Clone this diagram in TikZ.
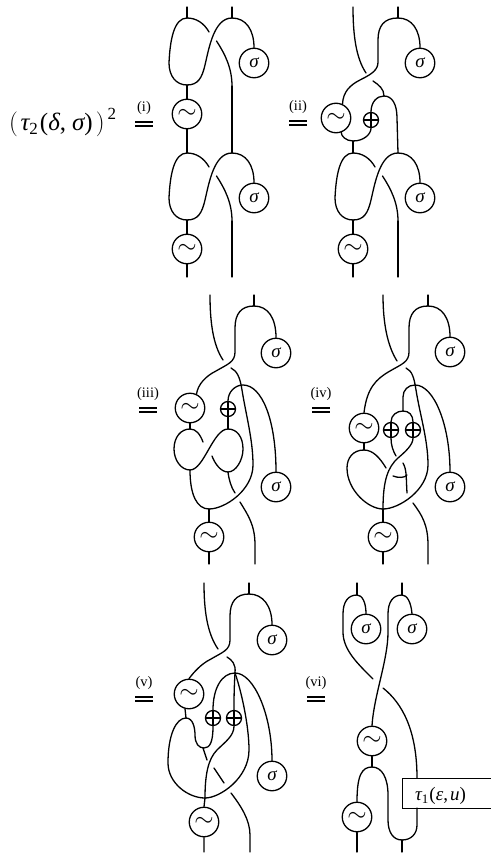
\documentclass[tikz,border=0pt]{standalone}
\usepackage{fontspec}
\newfontfamily\ser{Liberation Serif}
\tikzset{
  strand/.style={line width=1.3pt,line cap=round},
  sigmanode/.style={circle,draw,line width=1.3pt,minimum size=29.5pt,inner sep=0pt,font=\ser\itshape\fontsize{19}{19}\selectfont},
  tildenode/.style={circle,draw,line width=1.3pt,minimum size=29.5pt,inner sep=0pt,font=\fontsize{25}{25}\selectfont},
  oplusnode/.style={circle,draw,line width=1.3pt,minimum size=15pt,inner sep=0pt,
    path picture={\draw[line width=1.3pt] (path picture bounding box.north)--(path picture bounding box.south)
      (path picture bounding box.west)--(path picture bounding box.east);}},
  eqlabel/.style={inner sep=0pt,font=\ser\fontsize{14.5}{14.5}\selectfont},
  eqline/.style={line width=1.1pt},
}
\newcommand{\sg}{σ}
\newcommand{\tl}{$\sim$}
\newcommand{\eqmark}[4]{% name, x-centre, line y, label
  \node[eqlabel] (#1) at (#2,#3-14) {#4};
  \coordinate (#1a) at (#2-9,#3);
  \coordinate (#1b) at (#2+9,#3);
  \coordinate (#1c) at (#2-9,#3+4);
  \coordinate (#1d) at (#2+9,#3+4);
  \draw[eqline] (#1a)--(#1b) (#1c)--(#1d);
}
% the repeated loop with a crossing; origin at the left top junction
\newcommand{\loopblock}[1]{%
  \coordinate (#1tl) at (0,0);
  \coordinate (#1tr) at (45,0);
  \coordinate (#1b) at (0,67);
  \coordinate (#1u) at (29.5,23);
  \coordinate (#1ue) at (45,68);
  \coordinate (#1o) at (22,14);
  \node[sigmanode] (#1s) at (67,45) {\sg};
  \draw[strand] (#1tl) .. controls (-13,0) and (-17,22) .. (-18,45) .. controls (-18,58) and (-11,67) .. (#1b);
  \draw[strand] (#1tl) .. controls (9,0) and (17,5) .. (#1o);
  \draw[strand] (#1b) .. controls (11,67) and (15,60) .. (18,47) .. controls (22,30) and (27,0) .. (#1tr);
  \draw[strand] (#1tr) .. controls (59,0) and (67,12) .. (#1s.north);
  \draw[strand] (#1u) .. controls (38,36) and (45,50) .. (#1ue);
}
\begin{document}
\begin{tikzpicture}[x=1pt,y=-1pt]
\useasboundingbox (0,0) rectangle (490,853);
% formula
\node[anchor=base west,inner sep=0pt,font=\ser\fontsize{25}{25}\selectfont] (formula) at (9,131)
 {$\Bigg($\kern2.5pt{\itshape τ}\raisebox{-4pt}{\fontsize{17}{17}\selectfont 2}\kern2pt({\itshape δ},\kern6pt{\itshape σ})\kern3pt$\Bigg)$\kern3pt\raisebox{11pt}{\fontsize{17}{17}\selectfont 2}};
\eqmark{e1}{144}{122}{(i)}
\eqmark{e2}{298}{121}{(ii)}
\eqmark{e3}{148}{408}{(iii)}
\eqmark{e4}{321}{408}{(iv)}
\eqmark{e5}{144}{697}{(v)}
\eqmark{e6}{316}{697}{(vi)}

%%% panel 1
\begin{scope}[shift={(187,18)}]\loopblock{a}\end{scope}
\begin{scope}[shift={(187,153)}]\loopblock{b}\end{scope}
\coordinate (a1) at (187,7); \coordinate (a2) at (232,7);
\coordinate (a3) at (187,277); \coordinate (a4) at (232,277);
\node[tildenode] (at1) at (187,114) {\tl};
\node[tildenode] (at2) at (187,249) {\tl};
\draw[strand] (a1)--(atl) (a2)--(atr) (ab)--(at1.north) (at1.south)--(btl) (aue)--(btr)
  (bb)--(at2.north) (at2.south)--(a3) (bue)--(a4);

%%% panel 2
\begin{scope}[shift={(353,153)}]\loopblock{c}\end{scope}
\coordinate (d1) at (353,7); \coordinate (d1e) at (366,73);
\coordinate (d2) at (398,7); \coordinate (d2j) at (398,18);
\coordinate (d3) at (373,81); \coordinate (d3j) at (384,96);
\coordinate (d4) at (353,141);
\coordinate (d5) at (353,277); \coordinate (d6) at (398,277);
\node[sigmanode] (ds) at (420,63) {\sg};
\node[tildenode] (dt1) at (336,118) {\tl};
\node[oplusnode] (do) at (371,120) {};
\node[tildenode] (dt2) at (353,249) {\tl};
\draw[strand] (d1) .. controls (353,35) and (356,58) .. (d1e);
\draw[strand] (d2)--(d2j);
\draw[strand] (d2j) .. controls (412,18) and (420,30) .. (ds.north);
\draw[strand] (d2j) .. controls (384,18) and (378,26) .. (378,40) -- (378,62) .. controls (378,70) and (372,74) .. (360,80) .. controls (350,85) and (343,92) .. (dt1.65);
\draw[strand] (d3) .. controls (379,85) and (384,89) .. (d3j);
\draw[strand] (d3j) .. controls (377,96) and (371,102) .. (do.north);
\draw[strand] (d3j) .. controls (392,96) and (397,104) .. (397,118) -- (ctr);
\draw[strand] (do.south) .. controls (371,134) and (364,141) .. (d4);
\draw[strand] (dt1.-70) .. controls (341,136) and (346,141) .. (d4);
\draw[strand] (d4)--(ctl) (cb)--(dt2.north) (dt2.south)--(d5) (cue)--(d6);

%%% panel 3
\coordinate (f1) at (210,295); \coordinate (f1e) at (223,360);
\coordinate (f2) at (254,295); \coordinate (f2j) at (254,306);
\coordinate (f3) at (231,368); \coordinate (fb) at (209,509);
\coordinate (ft) at (190,429); \coordinate (fm) at (190,470);
\coordinate (fr) at (228,429); \coordinate (fq) at (228,472);
\coordinate (fe1) at (203,442); \coordinate (fe2) at (212,456);
\coordinate (fe3) at (235,493); \coordinate (fe4) at (240,502);
\coordinate (fe5) at (255,564); \coordinate (fe6) at (209,564);
\node[sigmanode] (fs1) at (276,353) {\sg};
\node[sigmanode] (fs2) at (276,487) {\sg};
\node[tildenode] (ft1) at (190,408) {\tl};
\node[tildenode] (ft2) at (209,537) {\tl};
\node[oplusnode] (fo) at (228,409) {};
\draw[strand] (f1) .. controls (210,322) and (213,345) .. (f1e);
\draw[strand] (f2)--(f2j);
\draw[strand] (f2j) .. controls (268,306) and (276,318) .. (fs1.north);
\draw[strand] (f2j) .. controls (241,306) and (235,314) .. (235,328) -- (235,352) .. controls (235,362) and (228,364) .. (216,371) .. controls (206,376) and (198,384) .. (ft1.65);
\draw[strand] (f3) .. controls (237,371) and (240,377) .. (242,390) .. controls (246,415) and (253,440) .. (253,465) .. controls (253,490) and (225,509) .. (fb);
\draw[strand] (ft1.south)--(ft);
\draw[strand] (ft) .. controls (181,429) and (174,437) .. (174,449) .. controls (174,460) and (181,470) .. (fm);
\draw[strand] (ft) .. controls (196,429) and (200,434) .. (fe1);
\draw[strand] (fm) .. controls (204,470) and (213,429) .. (fr);
\draw[strand] (fr) .. controls (237,429) and (243,437) .. (243,449) .. controls (243,460) and (236,472) .. (fq);
\draw[strand] (fq) .. controls (221,472) and (215,464) .. (fe2);
\draw[strand] (fq) .. controls (229,480) and (231,487) .. (fe3);
\draw[strand] (fe4) .. controls (248,515) and (255,525) .. (255,545) -- (fe5);
\draw[strand] (fo.south)--(fr);
\draw[strand] (fo.north) .. controls (228,392) and (235,385) .. (243,385) .. controls (262,385) and (276,420) .. (fs2.north);
\draw[strand] (fm) .. controls (190,495) and (197,509) .. (fb);
\draw[strand] (fb)--(ft2.north) (ft2.south)--(fe6);

%%% panel 4
\coordinate (g1) at (383,295); \coordinate (g1e) at (397,361);
\coordinate (g2) at (428,295); \coordinate (g2j) at (428,306);
\coordinate (g3) at (406,368); \coordinate (gb) at (383,509);
\coordinate (gt) at (364,450); \coordinate (gj) at (403,411);
\coordinate (ga) at (415,385); \coordinate (gc) at (407,475);
\coordinate (ge1) at (386,468); \coordinate (ge2) at (393,476);
\coordinate (ge3) at (407,493); \coordinate (ge4) at (413,503);
\coordinate (ge5) at (428,564); \coordinate (ge6) at (383,564);
\coordinate (ge7) at (396,456); \coordinate (ge8) at (403,463);
\node[sigmanode] (gs1) at (450,352) {\sg};
\node[sigmanode] (gs2) at (450,487) {\sg};
\node[tildenode] (gt1) at (364,428) {\tl};
\node[tildenode] (gt2) at (383,537) {\tl};
\node[oplusnode] (go1) at (391,430) {};
\node[oplusnode] (go2) at (413,430) {};
\draw[strand] (g1) .. controls (383,322) and (387,345) .. (g1e);
\draw[strand] (g2)--(g2j);
\draw[strand] (g2j) .. controls (442,306) and (450,318) .. (gs1.north);
\draw[strand] (g2j) .. controls (415,306) and (409,314) .. (409,328) -- (409,352) .. controls (409,362) and (402,364) .. (390,371) .. controls (376,379) and (367,388) .. (gt1.north);
\draw[strand] (g3) .. controls (412,371) and (414,377) .. (416,390) .. controls (420,415) and (428,440) .. (428,465) .. controls (428,490) and (399,509) .. (gb);
\draw[strand] (gt1.south)--(gt);
\draw[strand] (gt) .. controls (353,450) and (347,458) .. (347,468) .. controls (347,490) and (368,509) .. (gb);
\draw[strand] (gt) .. controls (373,450) and (380,458) .. (ge1);
\draw[strand] (gj) .. controls (397,411) and (391,415) .. (go1.north);
\draw[strand] (gj) .. controls (409,411) and (413,415) .. (go2.north);
\draw[strand] (gj) -- (403,397) .. controls (403,390) and (408,385) .. (ga) .. controls (434,385) and (450,425) .. (gs2.north);
\draw[strand] (go2.south) .. controls (413,445) and (405,452) .. (398,458) .. controls (388,467) and (383,480) .. (gb);
\draw[strand] (go1.south) .. controls (391,445) and (393,451) .. (ge7);
\draw[strand] (ge8) .. controls (407,470) and (406,478) .. (ge3);
\draw[strand] (ge2) .. controls (398,478) and (405,478) .. (gc);
\draw[strand] (ge4) .. controls (422,515) and (428,525) .. (428,545) -- (ge5);
\draw[strand] (gb)--(gt2.north) (gt2.south)--(ge6);

%%% panel 5
\coordinate (h1) at (204,583); \coordinate (h1e) at (218,649);
\coordinate (h2) at (249,583); \coordinate (h2j) at (249,594);
\coordinate (h3) at (227,657); \coordinate (hb) at (205,798);
\coordinate (ht) at (186,718); \coordinate (hj) at (235,673);
\coordinate (he1) at (203,748); \coordinate (he2) at (207,760);
\coordinate (he3) at (214,768); \coordinate (he4) at (224,783);
\coordinate (he5) at (231,793); \coordinate (he6) at (250,852);
\coordinate (he7) at (204,852);
\node[sigmanode] (hs1) at (272,640) {\sg};
\node[sigmanode] (hs2) at (272,776) {\sg};
\node[tildenode] (ht1) at (189,694) {\tl};
\node[tildenode] (ht2) at (204,822) {\tl};
\node[oplusnode] (ho1) at (213,718) {};
\node[oplusnode] (ho2) at (234,718) {};
\draw[strand] (h1) .. controls (204,610) and (207,633) .. (h1e);
\draw[strand] (h2)--(h2j);
\draw[strand] (h2j) .. controls (263,594) and (272,606) .. (hs1.north);
\draw[strand] (h2j) .. controls (236,594) and (230,602) .. (230,616) -- (230,640) .. controls (230,650) and (223,652) .. (211,659) .. controls (201,664) and (194,672) .. (ht1.north);
\draw[strand] (h3) .. controls (232,660) and (236,664) .. (hj);
\draw[strand] (hj) .. controls (241,690) and (249,725) .. (249,750) .. controls (249,778) and (220,798) .. (hb);
\draw[strand] (hj) .. controls (234,690) and (234,700) .. (ho2.north);
\draw[strand] (ho1.north) .. controls (213,688) and (222,673) .. (hj) .. controls (254,673) and (272,715) .. (hs2.north);
\draw[strand] (ht1.-105)--(ht);
\draw[strand] (ht) .. controls (176,718) and (168,735) .. (168,763) .. controls (168,783) and (188,798) .. (hb);
\draw[strand] (ht) .. controls (193,718) and (195,728) .. (195,735) .. controls (195,744) and (199,748) .. (204,748) .. controls (210,748) and (213,742) .. (ho1.south);
\draw[strand] (ho2.south) .. controls (234,736) and (225,742) .. (217,750) .. controls (208,759) and (205,775) .. (hb);
\draw[strand] (he1)--(he2) (he3)--(he4);
\draw[strand] (he5) .. controls (241,806) and (250,820) .. (250,835) -- (he6);
\draw[strand] (hb)--(ht2.north) (ht2.south)--(he7);

%%% panel 6
\coordinate (k1) at (357,583); \coordinate (k1j) at (357,595);
\coordinate (k2) at (402,583); \coordinate (k2j) at (402,595);
\coordinate (k3) at (373,679); \coordinate (k4) at (383,688);
\coordinate (k5) at (372,767); \coordinate (k6) at (402,840);
\coordinate (k7) at (357,852); \coordinate (k8) at (402,852);
\node[sigmanode] (ks1) at (366,629) {\sg};
\node[sigmanode] (ks2) at (412,629) {\sg};
\node[tildenode] (kt1) at (372,741) {\tl};
\node[tildenode] (kt2) at (357,817) {\tl};
\node[draw,line width=1.3pt,fill=white,anchor=north west,minimum width=92pt,minimum height=30pt,inner sep=0pt] (kbox) at (402,778) {};
\node[inner sep=0pt,font=\ser\fontsize{19}{19}\selectfont] (ktext) at (440.5,796) {{\itshape τ}\raisebox{-3pt}{\fontsize{13}{13}\selectfont 1}\kern1pt({\itshape ε},\kern2pt{\itshape u})};
\coordinate (kbt) at (417,778); \coordinate (kbb) at (417,808);
\draw[strand] (k1)--(k1j) (k2)--(k2j);
\draw[strand] (k1j) .. controls (348,595) and (343,602) .. (343,614) -- (343,632) .. controls (343,650) and (358,664) .. (k3);
\draw[strand] (k1j) .. controls (362,595) and (366,602) .. (ks1.north);
\draw[strand] (k2j) .. controls (393,595) and (388,602) .. (388,614) -- (388,632) .. controls (388,660) and (374,695) .. (kt1.north);
\draw[strand] (k2j) .. controls (407,595) and (411,602) .. (ks2.north);
\draw[strand] (k4) .. controls (402,703) and (417,730) .. (kbt);
\draw[strand] (kt1.south)--(k5);
\draw[strand] (k5) .. controls (362,767) and (357,775) .. (kt2.north);
\draw[strand] (k5) .. controls (382,767) and (388,778) .. (388,795) -- (388,820) .. controls (388,832) and (393,840) .. (k6);
\draw[strand] (kbb) -- (417,825) .. controls (417,834) and (411,840) .. (k6);
\draw[strand] (kt2.south)--(k7) (k6)--(k8);
\end{tikzpicture}
\end{document}
